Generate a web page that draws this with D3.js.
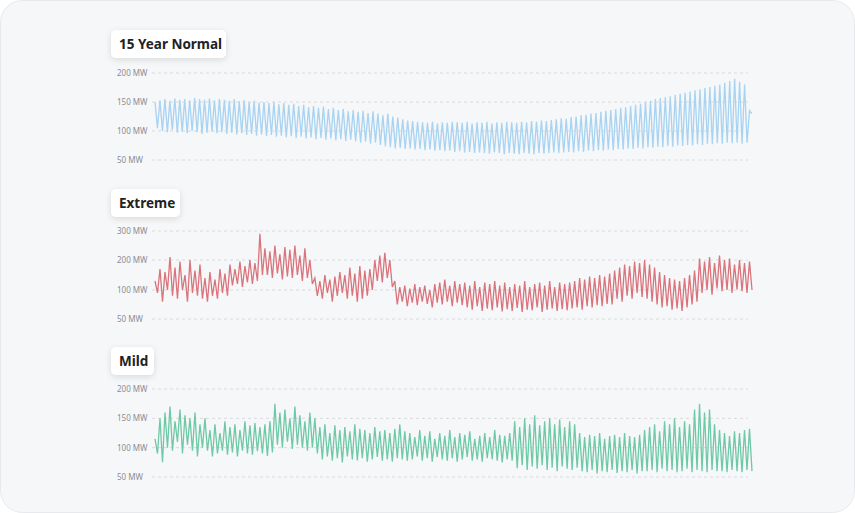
<!DOCTYPE html>
<html><head><meta charset="utf-8">
<script src="https://cdn.jsdelivr.net/npm/d3@7"></script>
<style>body{margin:0;background:#fff;font-family:"Noto Sans",sans-serif}</style>
</head><body><svg id="c" width="855" height="513"></svg>
<script>
const titles = ["15 Year Normal","Extreme","Mild"];
const normalTicks = [50,100,150,200];
const extremeTicks = [50,100,200,300];
const mildTicks = [50,100,150,200];
const normalHigh = [150,153,155,152,156,154,155,153,157,155,154,156,153,155,154,152,155,151,153,150,152,149,150,
148,150,146,148,145,147,143,145,141,143,140,142,138,140,136,138,134,136,133,135,131,134,130,
127,130,125,123,120,118,117,116,115,114,116,113,115,114,116,
115,114,116,113,115,114,116,113,115,114,116,115,114,116,115,117,116,118,117,119,
120,122,121,124,125,127,128,130,131,133,135,136,138,140,141,143,145,147,150,152,
155,157,158,160,162,164,166,168,170,172,174,176,178,180,183,186,190,185,180,135];
const normalLow = [105,100,98,102,97,99,96,100,98,95,97,99,96,98,95,97,94,96,93,95,92,94,91,
93,90,92,89,91,88,90,87,89,86,88,85,87,84,86,83,85,82,80,82,78,80,76,
74,72,70,71,69,70,68,69,67,68,66,67,65,66,64,
65,63,64,62,63,62,61,63,62,60,62,61,60,62,61,60,62,61,62,63,
62,63,64,63,65,64,66,65,67,66,68,67,69,68,70,69,71,70,72,71,
73,72,74,73,75,74,76,75,77,76,78,77,79,78,80,79,80,78,80,130];
const extremeHigh = [130,170,160,210,175,195,150,200,165,185,
140,160,135,170,155,185,170,195,180,200,190,290,
240,230,250,220,245,235,250,215,240,200,
140,130,150,135,145,160,150,175,155,180,165,170,200,215,225,200,
130,110,115,105,120,110,115,100,120,125,135,115,130,120,
125,115,130,110,125,120,130,115,125,110,120,115,130,110,120,125,115,130,110,125,120,
125,130,140,135,145,140,150,145,155,165,175,185,180,195,190,200,185,175,
160,150,140,135,130,140,150,165,205,195,210,190,215,200,205,185,200,190,195];
const extremeLow = [95,80,100,90,85,100,80,95,90,85,
80,90,85,95,90,115,120,110,125,120,130,150,
150,140,155,135,145,140,150,130,140,120,
90,85,95,80,90,95,85,90,80,85,90,100,130,125,140,110,
75,80,72,78,74,80,76,70,78,75,80,72,78,74,
70,66,72,64,68,65,70,63,67,64,69,62,66,65,70,62,66,68,64,67,65,
68,70,66,72,70,74,72,76,75,85,80,90,85,95,88,85,80,75,
70,72,66,68,64,70,75,80,95,100,92,105,98,100,95,102,98,95,100];
const mildHigh = [115,150,160,170,145,165,155,150,160,140,150,
130,140,125,145,135,140,130,145,138,142,135,140,145,
175,160,165,150,170,155,145,160,150,
135,140,125,138,130,135,128,140,132,130,125,135,128,130,125,132,140,128,
125,118,130,120,128,115,125,120,130,118,125,122,128,115,120,125,118,130,122,120,125,
145,135,150,140,155,138,145,150,140,148,135,145,140,
125,118,122,120,125,115,120,122,118,125,120,118,122,
130,135,140,128,145,140,150,135,145,140,165,175,160,165,140,
130,125,120,128,125,130,132];
const mildLow = [90,75,100,95,110,90,105,95,85,100,95,
85,90,95,88,92,85,95,90,88,94,90,86,92,
105,100,110,98,105,100,95,100,90,
80,85,78,82,75,85,80,78,82,76,80,84,78,80,76,82,80,78,
80,85,78,82,76,84,80,78,82,76,80,84,78,80,76,82,80,78,75,80,78,
65,70,62,68,64,70,62,66,60,68,64,62,66,
60,58,62,56,60,58,62,57,60,58,62,56,60,
60,62,58,64,60,62,58,60,64,58,62,60,58,62,60,
60,58,62,60,58,62,60];

const svg = d3.select("#c");
const defs = svg.append("defs");
const f = defs.append("filter").attr("id","sh").attr("x","-20%").attr("y","-30%").attr("width","140%").attr("height","170%");
f.append("feDropShadow").attr("dx",0).attr("dy",2).attr("stdDeviation",3).attr("flood-color","#000").attr("flood-opacity",0.12);
svg.append("rect").attr("x",0.5).attr("y",0.5).attr("width",854).attr("height",512).attr("rx",22)
  .attr("fill","#f6f7f9").attr("stroke","#e8e9ec");

const panels = [
  {title:titles[0], w:115, ty:30, ticks:normalTicks, range:[160,73], hi:normalHigh, lo:normalLow, color:"#a8d3f1"},
  {title:titles[1], w:69, ty:189, ticks:extremeTicks, range:[319,290,260,231], hi:extremeHigh, lo:extremeLow, color:"#d9747c"},
  {title:titles[2], w:43, ty:347, ticks:mildTicks, range:[477,389], hi:mildHigh, lo:mildLow, color:"#6fc8a6"}
];
panels.forEach(p=>{
  const y = p.range.length===2 ? d3.scaleLinear().domain([50,200]).range(p.range)
                               : d3.scaleLinear().domain(p.ticks).range(p.range);
  const g = svg.append("g");
  g.append("rect").attr("x",111).attr("y",p.ty).attr("width",p.w).attr("height",28).attr("rx",5)
    .attr("fill","#fff").attr("filter","url(#sh)");
  g.append("text").attr("x",119).attr("y",p.ty+19).attr("font-size",13.5).attr("font-weight",700)
    .attr("fill","#222").text(p.title);
  p.ticks.forEach(t=>{
    g.append("line").attr("x1",152).attr("x2",748).attr("y1",y(t)).attr("y2",y(t))
      .attr("stroke","#d9dadd").attr("stroke-dasharray","3,3");
    g.append("text").attr("x",117).attr("y",y(t)+3).attr("font-size",8).attr("fill","#8a8d93").text(t+" MW");
  });
  const n = Math.min(p.hi.length,p.lo.length);
  const pts=[];
  for(let i=0;i<n;i++){pts.push(p.hi[i]);pts.push(p.lo[i]);}
  const x = d3.scaleLinear().domain([0,pts.length-1]).range([155,752]);
  g.append("path").datum(pts).attr("fill","none").attr("stroke",p.color).attr("stroke-width",1.3)
    .attr("d",d3.line().x((d,i)=>x(i)).y(d=>y(d)));
});
</script></body></html>
